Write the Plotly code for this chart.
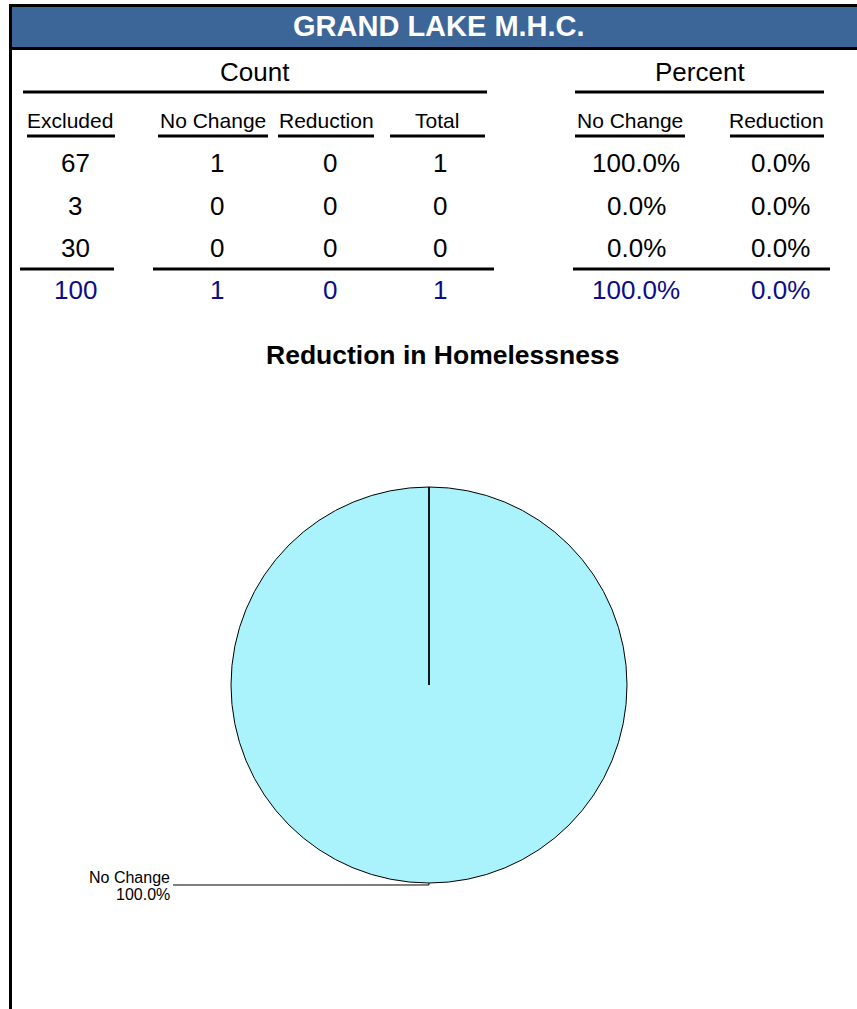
import plotly.graph_objects as go

W, H = 857, 1009

# ---- data ----
title_text = "GRAND LAKE M.H.C."
chart_title = "Reduction in Homelessness"
count_headers = ["Excluded", "No Change", "Reduction", "Total"]
pct_headers = ["No Change", "Reduction"]
excluded = [67, 3, 30]
no_change_counts = [1, 0, 0]
reduction_counts = [0, 0, 0]
total_counts = [1, 0, 0]
count_totals = [100, 1, 0, 1]
pct_no_change = [100.0, 0.0, 0.0]
pct_reduction = [0.0, 0.0, 0.0]
pct_totals = [100.0, 0.0]
pie_labels = ["No Change", "Reduction"]
pie_values = [1, 0]
pie_pct = [100.0, 0.0]

FONT = "Arial, Liberation Sans, sans-serif"
NAVY = "#0c0c8a"
BLUE = "#3d6698"
CYAN = "#aaf2fc"


def px(x):
    return x / W


def py(y):
    return 1 - y / H


fig = go.Figure()
shapes = []
ann = []


def text(x, y, s, size, color="black", bold=False, xanchor="center"):
    ann.append(dict(x=px(x), y=py(y), xref="paper", yref="paper", text=("<b>%s</b>" % s) if bold else s,
                    showarrow=False, xanchor=xanchor, yanchor="middle",
                    font=dict(family=FONT, size=size, color=color)))


def hline(x0, x1, y, w=3):
    shapes.append(dict(type="line", xref="paper", yref="paper", x0=px(x0), x1=px(x1), y0=py(y), y1=py(y),
                       line=dict(color="black", width=w)))


# header band
shapes.append(dict(type="rect", xref="paper", yref="paper", x0=px(10.5), x1=px(860), y0=py(48.5), y1=py(5.5),
                   fillcolor=BLUE, line=dict(color="black", width=3)))
# left border
shapes.append(dict(type="line", xref="paper", yref="paper", x0=px(10.5), x1=px(10.5), y0=py(4), y1=py(H + 2),
                   line=dict(color="black", width=3)))
text(439, 26, title_text, 29, color="white", bold=True)

# group headers
text(255, 72, "Count", 26)
text(700, 72, "Percent", 26)
hline(23, 487, 92)
hline(575, 824, 92)

# column headers
col_hdr_x = [70, 213, 326, 437]
pct_hdr_x = [630, 776]
for x, s in zip(col_hdr_x, count_headers):
    text(x, 120, s, 21)
for x, s in zip(pct_hdr_x, pct_headers):
    text(x, 120, s, 21)
for a, b in [(27, 115), (158, 268), (278, 374), (390, 485), (575, 685), (730, 824)]:
    hline(a, b, 136)

# body rows
row_y = [163, 206, 248]
val_x = [75, 217, 330, 440]
pct_x = [636, 780]
for i, y in enumerate(row_y):
    vals = [excluded[i], no_change_counts[i], reduction_counts[i], total_counts[i]]
    for x, v in zip(val_x, vals):
        text(x, y, str(v), 26)
    text(pct_x[0], y, "%.1f%%" % pct_no_change[i], 26)
    text(pct_x[1], y, "%.1f%%" % pct_reduction[i], 26)

hline(20, 114, 269)
hline(153, 494, 269)
hline(573, 830, 269)
for x, v in zip(val_x, count_totals):
    text(x, 290, str(v), 26, color=NAVY)
for x, v in zip(pct_x, pct_totals):
    text(x, 290, "%.1f%%" % v, 26, color=NAVY)

# chart title
text(442, 355, chart_title, 26.5, bold=True)

# pie
cx, cy, r = 429, 685, 198
dom_x = [px(cx - r), px(cx + r)]
dom_y = [py(cy + r), py(cy - r)]
fig.add_trace(go.Pie(labels=pie_labels, values=pie_values, domain=dict(x=dom_x, y=dom_y),
                     marker=dict(colors=[CYAN, "#ffffff"], line=dict(color="black", width=1)),
                     textinfo="none", sort=False, direction="clockwise", rotation=0,
                     hoverinfo="label+percent", showlegend=False))
# radial boundary of the single full slice
pcx = (dom_x[0] + dom_x[1]) / 2
pcy = (dom_y[0] + dom_y[1]) / 2
shapes.append(dict(type="line", xref="paper", yref="paper", x0=pcx, x1=pcx, y0=pcy, y1=dom_y[1],
                   line=dict(color="black", width=1.2)))
# leader line + label
lab_y = cy + r + 2
shapes.append(dict(type="path", xref="paper", yref="paper",
                   path="M %f %f L %f %f L %f %f" % (pcx, dom_y[0], pcx, py(lab_y), px(173), py(lab_y)),
                   line=dict(color="black", width=1)))
text(172, 877, pie_labels[0], 16, xanchor="right")
text(172, 894, "%.1f%%" % pie_pct[0], 16, xanchor="right")

fig.update_layout(width=W, height=H, autosize=False, margin=dict(l=0, r=0, t=0, b=0),
                  paper_bgcolor="white", plot_bgcolor="white", shapes=shapes, annotations=ann,
                  showlegend=False)
fig.write_html("out.html", config={"displayModeBar": False},
               post_script="document.body.style.margin='0px';")
